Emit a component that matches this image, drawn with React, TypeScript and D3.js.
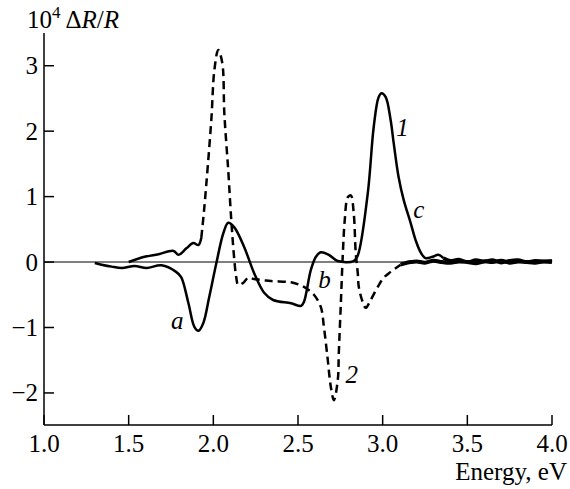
import React from "react";
import * as d3 from "d3";

const xTicks = [1.0, 1.5, 2.0, 2.5, 3.0, 3.5, 4.0];
const yTicks = [-2, -1, 0, 1, 2, 3];

// Curve 1 (solid)
const c1E = [1.30,1.34,1.40,1.46,1.535,1.606,1.694,1.78,1.81,1.853,1.888,1.912,1.941,1.976,2.018,2.059,2.088,2.124,2.182,2.241,2.30,2.353,2.459,2.518,2.535,2.576,2.606,2.635,2.682,2.735,2.829,2.853,2.912,2.947,2.976,2.994,3.018,3.047,3.065,3.094,3.124,3.165,3.194,3.224,3.253,3.294,3.329,3.359];
const c1V = [-0.015,-0.04,-0.07,-0.09,-0.06,-0.09,-0.05,-0.15,-0.23,-0.63,-0.99,-1.05,-0.93,-0.53,-0.015,0.44,0.60,0.53,0.23,-0.17,-0.47,-0.58,-0.63,-0.67,-0.61,-0.12,0.08,0.15,0.11,0.015,0.015,0.10,1.05,2.06,2.52,2.58,2.52,2.17,1.82,1.30,0.95,0.60,0.34,0.15,0.06,0.08,0.11,0.06];
// Curve 1 noisy tail
const c1TailE = [3.359,3.40,3.45,3.50,3.55,3.60,3.65,3.70,3.75,3.80,3.85,3.90,3.95,4.00];
const c1TailV = [0.06,0.02,0.04,0.00,0.03,0.01,0.03,-0.01,0.02,0.03,0.00,0.02,0.01,0.02];

// Curve 2: initial solid part, then dashed
const c2SolidE = [1.50,1.594,1.676,1.765,1.794,1.841,1.882,1.912,1.929];
const c2SolidV = [0.0,0.08,0.12,0.17,0.11,0.21,0.29,0.26,0.37];
const c2E = [1.929,1.947,1.988,2.006,2.029,2.053,2.065,2.088,2.106,2.124,2.135,2.147,2.176,2.206,2.241,2.341,2.459,2.535,2.594,2.635,2.653,2.676,2.694,2.712,2.735,2.741,2.753,2.765,2.776,2.794,2.812,2.829,2.841,2.853,2.859,2.882,2.90,2.929,2.971,3.006,3.047,3.106];
const c2V = [0.37,0.84,2.17,2.93,3.24,3.04,2.27,1.40,0.64,0.03,-0.23,-0.35,-0.32,-0.24,-0.26,-0.29,-0.31,-0.38,-0.50,-0.69,-0.99,-1.50,-1.91,-2.11,-1.80,-1.39,-0.63,0.14,0.64,0.99,1.02,0.75,0.14,-0.17,-0.38,-0.61,-0.70,-0.58,-0.38,-0.24,-0.15,-0.04];
const c2TailE = [3.106,3.13,3.165,3.20,3.25,3.30,3.35,3.40,3.45,3.50,3.55,3.60,3.65,3.70,3.75,3.80,3.85,3.90,3.95,4.00];
const c2TailV = [-0.04,-0.02,0.0,0.01,-0.01,0.02,0.0,-0.01,0.01,0.0,-0.02,0.01,0.0,0.02,-0.01,0.01,0.0,-0.01,0.01,0.0];

const labels = [
  { t: "a", E: 1.75, v: -1.03 },
  { t: "b", E: 2.62, v: -0.4 },
  { t: "c", E: 3.18, v: 0.67 },
  { t: "1", E: 3.08, v: 1.92 },
  { t: "2", E: 2.78, v: -1.85 },
];

const W = 570, H = 489;
const x = d3.scaleLinear().domain([1, 4]).range([44, 552]);
const y = d3.scaleLinear().domain([-2.49, 3.5]).range([425, 33]);

const zip = (E: number[], V: number[]) => E.map((e, i) => [e, V[i]] as [number, number]);
const line = d3.line<[number, number]>().x(d => x(d[0])).y(d => y(d[1])).curve(d3.curveCatmullRom.alpha(0.5));

export default function App() {
  const ts = { fontFamily: "Liberation Serif" };
  return (
    <svg width={W} height={H} style={{ position: "absolute", left: 0, top: 0, background: "#fff" }}>
      {/* zero line */}
      <line x1={x(1)} x2={x(4)} y1={y(0)} y2={y(0)} stroke="#555" strokeWidth={1.5} />
      {/* axes */}
      <line x1={x(1)} x2={x(1)} y1={y(3.5)} y2={y(-2.49)} stroke="#000" strokeWidth={1.5} />
      <line x1={x(1)} x2={x(4)} y1={y(-2.49)} y2={y(-2.49)} stroke="#000" strokeWidth={1.5} />
      {xTicks.map(t => (
        <g key={"x" + t}>
          <line x1={x(t)} x2={x(t)} y1={y(-2.49)} y2={y(-2.49) - 10} stroke="#000" strokeWidth={1.5} />
          <text style={ts} x={x(t)} y={452} fontSize={25} textAnchor="middle">{t.toFixed(1)}</text>
        </g>
      ))}
      {yTicks.map(t => (
        <g key={"y" + t}>
          <line x1={x(1)} x2={x(1) + 10} y1={y(t)} y2={y(t)} stroke="#000" strokeWidth={1.5} />
          <text style={ts} x={38} y={y(t) + 8.5} fontSize={25} textAnchor="end">{t < 0 ? "\u2212" + Math.abs(t) : String(t)}</text>
        </g>
      ))}
      <text style={ts} x={567} y={480} fontSize={25} textAnchor="end">Energy, eV</text>
      <text style={ts} x={27} y={28} fontSize={25}>
        10<tspan dy={-10} fontSize={17}>4</tspan><tspan dy={10}> {"\u0394"}</tspan><tspan fontStyle="italic">R</tspan>/<tspan fontStyle="italic">R</tspan>
      </text>
      {/* curves */}
      <path d={line(zip(c1E, c1V)) || ""} fill="none" stroke="#000" strokeWidth={2.5} strokeLinejoin="round" />
      <path d={line(zip(c1TailE, c1TailV)) || ""} fill="none" stroke="#000" strokeWidth={3.5} strokeLinejoin="round" />
      <path d={line(zip(c2SolidE, c2SolidV)) || ""} fill="none" stroke="#000" strokeWidth={2.5} strokeLinejoin="round" />
      <path d={line(zip(c2E, c2V)) || ""} fill="none" stroke="#000" strokeWidth={2.5} strokeDasharray="8 5" />
      <path d={line(zip(c2TailE, c2TailV)) || ""} fill="none" stroke="#000" strokeWidth={4} strokeLinejoin="round" />
      {labels.map(l => (
        <text style={ts} key={l.t} x={x(l.E)} y={y(l.v)} fontSize={25} fontStyle="italic">{l.t}</text>
      ))}
    </svg>
  );
}
